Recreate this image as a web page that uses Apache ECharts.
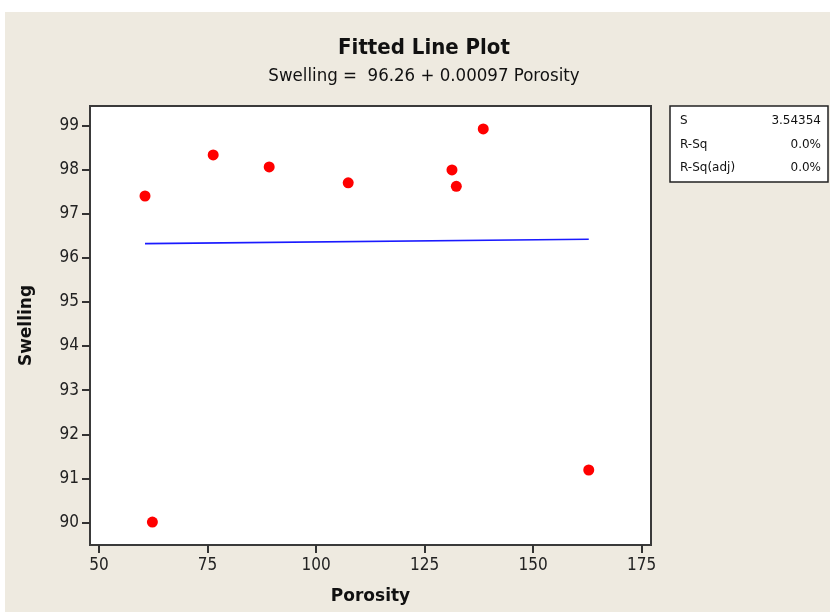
<!DOCTYPE html>
<html>
<head>
<meta charset="utf-8">
<script src="https://cdn.jsdelivr.net/npm/echarts@6/dist/echarts.min.js"></script>
<style>
html,body{margin:0;padding:0;background:#fff;}
#chart{width:830px;height:612px;}
</style>
</head>
<body>
<div id="chart"></div>
<script>
// Data
var porosity = [60.6, 62.3, 76.3, 89.2, 107.4, 131.3, 132.3, 138.5, 162.8];
var swelling = [97.40, 90.01, 98.33, 98.06, 97.70, 97.99, 97.62, 98.92, 91.19];
var fitX = [60.6, 162.8];
var fitY = [96.32, 96.42];
var xTicks = [50, 75, 100, 125, 150, 175];
var yTicks = [90, 91, 92, 93, 94, 95, 96, 97, 98, 99];
var statLabels = ['S', 'R-Sq', 'R-Sq(adj)'];
var statValues = ['3.54354', '0.0%', '0.0%'];
var titleText = 'Fitted Line Plot';
var subtitleText = 'Swelling =  96.26 + 0.00097 Porosity';

var pts = porosity.map(function (x, i) { return [x, swelling[i]]; });
var fit = fitX.map(function (x, i) { return [x, fitY[i]]; });

var font = '"DejaVu Sans", Verdana, sans-serif';
var cfont = '"DejaVu Sans Condensed", "DejaVu Sans", sans-serif';
var statChildren = [{
  type: 'rect', shape: {x: 0, y: 0, width: 158, height: 76},
  style: {fill: '#fff', stroke: '#222', lineWidth: 1.5}
}];
statLabels.forEach(function (l, i) {
  statChildren.push({type: 'text', style: {text: l, x: 10, y: 15 + i * 23.5, font: '12px ' + font, fill: '#111', verticalAlign: 'middle'}});
  statChildren.push({type: 'text', style: {text: statValues[i], x: 151, y: 15 + i * 23.5, font: '12px ' + font, fill: '#111', align: 'right', verticalAlign: 'middle'}});
});

var chart = echarts.init(document.getElementById('chart'), null, {renderer: 'canvas'});
chart.setOption({
  backgroundColor: '#fff',
  animation: false,
  graphic: [
    {type: 'rect', z: -10, shape: {x: 5, y: 12, width: 825, height: 600}, style: {fill: '#EEEAE0'}},
    {type: 'group', x: 670, y: 106, children: statChildren},
    {type: 'text', x: 424, y: 48, style: {text: titleText, font: 'bold 22px ' + cfont, fill: '#111', align: 'center', verticalAlign: 'middle'}},
    {type: 'text', x: 424, y: 76, style: {text: subtitleText, font: '18.5px ' + cfont, fill: '#111', align: 'center', verticalAlign: 'middle'}}
  ],
  grid: {
    left: 90, top: 106, width: 561, height: 439,
    show: true, backgroundColor: '#fff', borderColor: '#3a3a3a', borderWidth: 2,
    containLabel: false
  },
  xAxis: {
    type: 'value', min: 47.93, max: 177.14,
    name: 'Porosity', nameLocation: 'middle', nameGap: 43,
    nameTextStyle: {fontFamily: font, fontWeight: 'bold', fontSize: 17, color: '#111'},
    axisLine: {show: false},
    axisTick: {show: true, length: 8, customValues: xTicks, lineStyle: {color: '#333', width: 2}},
    axisLabel: {customValues: xTicks, fontFamily: cfont, fontSize: 17, color: '#222', margin: 12},
    splitLine: {show: false}
  },
  yAxis: {
    type: 'value', min: 89.49, max: 99.44,
    name: 'Swelling', nameLocation: 'middle', nameGap: 55, nameRotate: 90,
    nameTextStyle: {fontFamily: font, fontWeight: 'bold', fontSize: 17, color: '#111'},
    axisLine: {show: false},
    axisTick: {show: true, length: 8, customValues: yTicks, lineStyle: {color: '#333', width: 2}},
    axisLabel: {customValues: yTicks, fontFamily: cfont, fontSize: 17, color: '#222', margin: 11},
    splitLine: {show: false}
  },
  series: [
    {
      type: 'line', data: fit, symbol: 'none',
      lineStyle: {color: '#1a1aff', width: 1.6}, z: 2
    },
    {
      type: 'scatter', data: pts, symbol: 'circle', symbolSize: 11,
      itemStyle: {color: '#ff0000', opacity: 1}, z: 3
    }
  ]
});
</script>
</body>
</html>
